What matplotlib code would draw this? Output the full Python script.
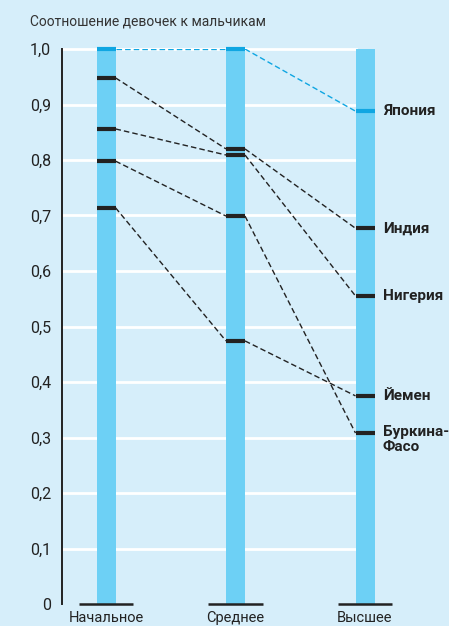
import matplotlib.pyplot as plt
import numpy as np

levels = ["Начальное", "Среднее", "Высшее"]
countries = ["Япония", "Индия", "Нигерия", "Буркина-\nФасо", "Йемен"]
japan = [1.0, 1.0, 0.888]
india = [0.948, 0.820, 0.677]
nigeria = [0.856, 0.809, 0.555]
burkina = [0.798, 0.699, 0.308]
yemen = [0.714, 0.474, 0.375]
yticks = np.arange(0, 1.01, 0.1)
ytick_labels = ["0", "0,1", "0,2", "0,3", "0,4", "0,5", "0,6", "0,7", "0,8", "0,9", "1,0"]

BG = "#d6eefa"
BAR = "#6dd0f5"
JP = "#0fa6e2"
DARK = "#222222"
FONT = ["Roboto", "DejaVu Sans"]

plt.rcParams['font.family'] = FONT

fig = plt.figure(figsize=(4.49, 6.26), dpi=100, facecolor=BG)
ax = fig.add_axes([62 / 449, 22 / 626, 387 / 449, 555 / 626])
ax.set_facecolor(BG)
for s in ax.spines.values():
    s.set_visible(False)

x = np.arange(len(levels))
px = 129.5  # pixels per category step
ax.set_xlim(-44 / px, (449 - 106) / px)
ax.set_ylim(0, 1.0)
w = 19 / px

# white gridlines behind bars
for t in yticks[1:]:
    ax.plot([-44 / px, 2 - w / 2], [t, t], color="white", lw=2, zorder=1, clip_on=False)

ax.bar(x, 1.0, width=w, color=BAR, zorder=2)

# baselines
ax.hlines(np.zeros(len(x)), x - 0.21, x + 0.21, color=DARK, lw=1.8, zorder=4, clip_on=False)
# y axis line
ax.plot([-44 / px, -44 / px], [0, 1.0], color=DARK, lw=1.4, clip_on=False, zorder=4)

series = [japan, india, nigeria, burkina, yemen]
for i, vals in enumerate(series):
    col = JP if i == 0 else DARK
    for j in range(len(levels) - 1):
        ax.plot([x[j] + w / 2, x[j + 1] - w / 2], [vals[j], vals[j + 1]],
                color=col, lw=1.0, ls=(0, (4, 2.2)), zorder=3)
    ax.hlines(vals, x - w / 2, x + w / 2, color=col, lw=3.0, zorder=4, clip_on=False)
    name = countries[i]
    if "\n" in name:
        ax.annotate(name, xy=(x[-1] + w / 2, vals[-1]), xytext=(6, 6),
                    textcoords="offset points", va="top", ha="left",
                    fontsize=11, fontweight="bold", color=DARK, linespacing=1.15)
    else:
        ax.annotate(name, xy=(x[-1] + w / 2, vals[-1]), xytext=(6, 0),
                    textcoords="offset points", va="center", ha="left",
                    fontsize=11, fontweight="bold", color=DARK)

ax.set_yticks(yticks)
ax.set_yticklabels(ytick_labels, fontsize=11.5, color=DARK)
ax.tick_params(axis="y", length=0, pad=8)
ax.set_xticks(x)
ax.set_xticklabels(levels, fontsize=10.5, color=DARK)
ax.tick_params(axis="x", length=0, pad=5)

fig.text(30 / 449, 1 - 22 / 626, "Соотношение девочек к мальчикам",
         fontsize=10, color="#333333", va="center", ha="left")

fig.savefig("out.png", dpi=100, facecolor=BG)
